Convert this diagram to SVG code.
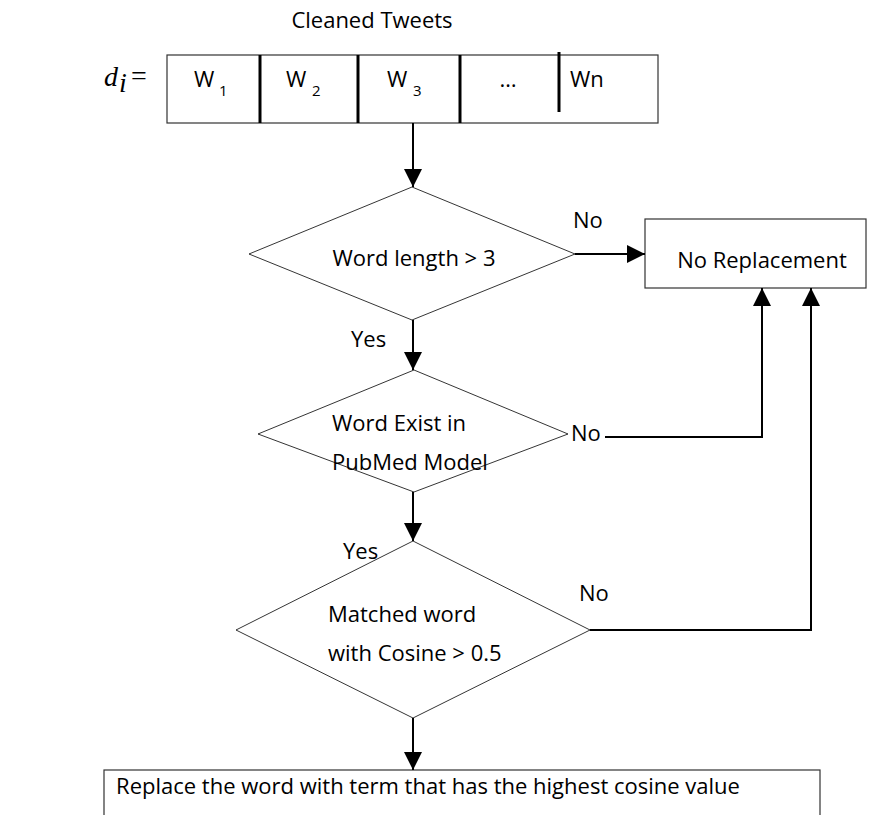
<svg xmlns="http://www.w3.org/2000/svg" width="871" height="815" viewBox="0 0 871 815">
  <defs>
    <marker id="ah" viewBox="0 0 18 18" refX="18" refY="9" markerWidth="18" markerHeight="18" markerUnits="userSpaceOnUse" orient="auto">
      <path d="M0,0 L18,9 L0,18 z" fill="#000"/>
    </marker>
  </defs>
  <style>
    text { font-family: "Open Sans", "Liberation Sans", Arial, sans-serif; font-size: 22px; fill: #000; }
    .mid { text-anchor: middle; }
    .box { fill: #fff; stroke: #333; stroke-width: 1.2; }
    .dia { fill: #fff; stroke: #000; stroke-width: 0.8; }
    .div { stroke: #000; stroke-width: 3; }
    .con { fill: none; stroke: #000; stroke-width: 2; }
    .sub { font-size: 15px; }
    .math { font-family: "Liberation Serif", "Times New Roman", serif; font-size: 28px; }
  </style>
  <rect width="871" height="815" fill="#fff"/>

  <!-- word vector d_i -->
  <g id="tweets">
    <text class="mid" x="372" y="28">Cleaned Tweets</text>
    <text class="math" x="104" y="86" font-style="italic">d</text>
    <text class="math" x="119" y="92" font-size="16" font-style="italic">i</text>
    <text class="math" x="131" y="85">=</text>
    <rect class="box" x="167" y="55" width="491" height="68"/>
    <line class="div" x1="260" y1="55" x2="260" y2="123"/>
    <line class="div" x1="358" y1="55" x2="358" y2="123"/>
    <line class="div" x1="460" y1="55" x2="460" y2="123"/>
    <line class="div" x1="559" y1="52" x2="559" y2="112"/>
    <text x="194" y="87">W</text><text class="sub" x="219" y="96">1</text>
    <text x="286" y="87">W</text><text class="sub" x="312" y="96">2</text>
    <text x="387" y="87">W</text><text class="sub" x="413" y="96">3</text>
    <text class="mid" x="508" y="87">…</text>
    <text x="570" y="87">Wn</text>
  </g>

  <g id="check-length">
    <polygon class="dia" points="412,187 575,254 412,320 249,254"/>
    <text class="mid" x="414" y="266">Word length &gt; 3</text>
  </g>

  <g id="no-replacement">
    <rect class="box" x="645" y="219" width="221" height="69"/>
    <text class="mid" x="762" y="268">No Replacement</text>
  </g>

  <g id="check-pubmed">
    <polygon class="dia" points="414,370 568,434 414,492 258,434"/>
    <text x="332" y="431">Word Exist in</text>
    <text x="332" y="470">PubMed Model</text>
  </g>

  <g id="check-cosine">
    <polygon class="dia" points="413,541 590,630 413,718 236,630"/>
    <text x="328" y="622">Matched word</text>
    <text x="328" y="661">with Cosine &gt; 0.5</text>
  </g>

  <g id="replace">
    <rect class="box" x="104" y="770" width="716" height="60"/>
    <text class="mid" x="428" y="794">Replace the word with term that has the highest cosine value</text>
  </g>

  <g id="connectors">
    <line class="con" x1="413" y1="123" x2="413" y2="187" marker-end="url(#ah)"/>
    <line class="con" x1="575" y1="254" x2="645" y2="254" marker-end="url(#ah)"/>
    <line class="con" x1="413" y1="320" x2="413" y2="370" marker-end="url(#ah)"/>
    <polyline class="con" points="605,437 762,437 762,288" marker-end="url(#ah)"/>
    <line class="con" x1="413" y1="492" x2="413" y2="541" marker-end="url(#ah)"/>
    <polyline class="con" points="590,630 811,630 811,288" marker-end="url(#ah)"/>
    <line class="con" x1="413" y1="718" x2="413" y2="770" marker-end="url(#ah)"/>
  </g>

  <g id="labels">
    <text x="573" y="228">No</text>
    <text x="351" y="347">Yes</text>
    <text x="571" y="441">No</text>
    <text x="343" y="559">Yes</text>
    <text x="579" y="601">No</text>
  </g>
</svg>
